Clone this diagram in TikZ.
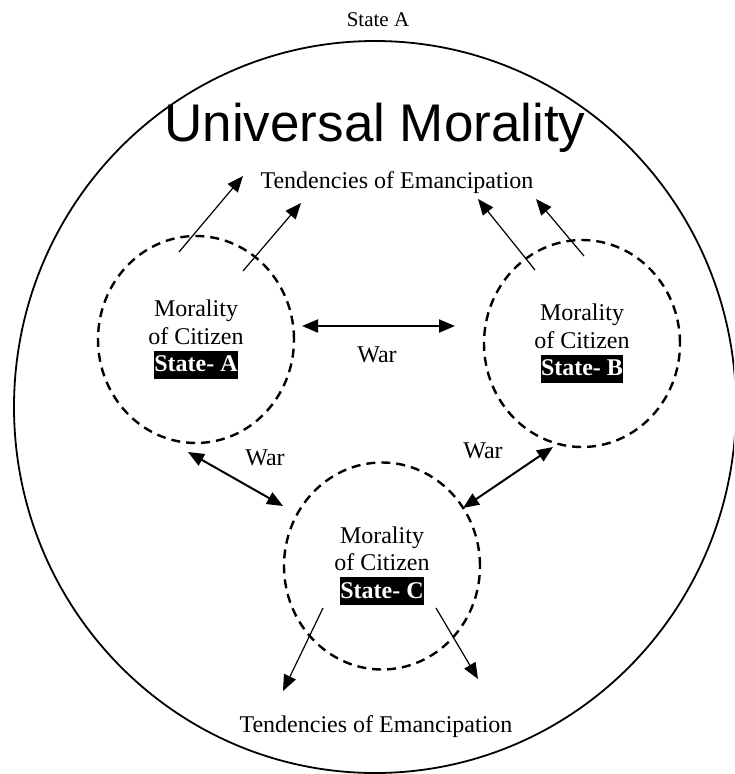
\documentclass[tikz,border=0pt]{standalone}
\usepackage{fontspec}
\setmainfont{Liberation Serif}
\newfontfamily\headfont{Liberation Sans}
\usetikzlibrary{shapes.geometric,arrows.meta}

\newcommand{\statetag}[1]{{\setlength{\fboxsep}{0pt}\colorbox{black}{\rule[-7pt]{0pt}{28pt}\textcolor{white}{\bfseries #1}}}}

\tikzset{
  citizen/.style={ellipse,draw,line width=2.4pt,dash pattern=on 9pt off 6pt,
    minimum width=196pt,minimum height=207pt,align=center,inner sep=0pt,
    font=\fontsize{24}{27.5}\selectfont},
  lbl/.style={anchor=base,font=\fontsize{24}{28}\selectfont},
  war/.style={{Triangle[length=16pt,width=13pt]}-{Triangle[length=16pt,width=13pt]},line width=2pt},
  eman/.style={-{Triangle[length=16pt,width=13pt]},line width=1.2pt}
}

\begin{document}
\begin{tikzpicture}[x=1pt,y=-1pt]
\useasboundingbox (0,0) rectangle (734,774);
\clip (0,0) rectangle (734,774);

% Universe
\draw[line width=1.8pt] (375,407) ellipse [x radius=361pt, y radius=366pt];
\node[font=\fontsize{21}{24}\selectfont] (top) at (378,20) {State A};
\node[anchor=base,font=\headfont\fontsize{53}{60}\selectfont] (univ) at (375,141) {Universal Morality};

% States
\node[citizen] (A) at (196,339.5) {Morality\\of Citizen\\\statetag{State- A}};
\node[citizen] (B) at (582,343.5) {Morality\\of Citizen\\\statetag{State- B}};
\node[citizen] (C) at (382,566) {Morality\\of Citizen\\\statetag{State- C}};

% Emancipation
\node[lbl] (emtop) at (397,188) {Tendencies of Emancipation};
\node[lbl] (embot) at (376,732) {Tendencies of Emancipation};
\coordinate (a1s) at (179,252); \coordinate (a1e) at (243,176);
\coordinate (a2s) at (243,271); \coordinate (a2e) at (301,203);
\coordinate (b1s) at (535,270); \coordinate (b1e) at (478,199);
\coordinate (b2s) at (584,256); \coordinate (b2e) at (536,199);
\coordinate (c1s) at (323,608); \coordinate (c1e) at (283,691);
\coordinate (c2s) at (436,608); \coordinate (c2e) at (478,679);
\draw[eman] (a1s) -- (a1e);
\draw[eman] (a2s) -- (a2e);
\draw[eman] (b1s) -- (b1e);
\draw[eman] (b2s) -- (b2e);
\draw[eman] (c1s) -- (c1e);
\draw[eman] (c2s) -- (c2e);

% War
\coordinate (ab1) at (302,326); \coordinate (ab2) at (455,326);
\coordinate (ac1) at (188,452); \coordinate (ac2) at (283,506);
\coordinate (bc1) at (553,447); \coordinate (bc2) at (463,508);
\draw[war] (ab1) -- (ab2);
\draw[war] (ac1) -- (ac2);
\draw[war] (bc1) -- (bc2);
\node[lbl] (warab) at (377,362) {War};
\node[lbl] (warac) at (265,465) {War};
\node[lbl] (warbc) at (483,458) {War};
\end{tikzpicture}
\end{document}
